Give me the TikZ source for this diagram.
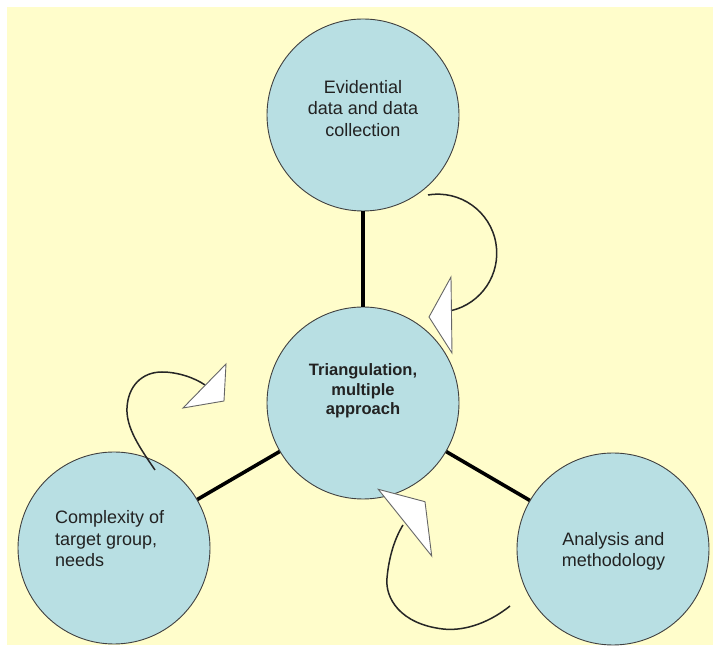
\documentclass[tikz,border=0pt]{standalone}
\usepackage{fontspec}
\setmainfont{Liberation Sans}
\definecolor{paper}{HTML}{FFFDCB}
\definecolor{circfill}{HTML}{B8DFE3}
\definecolor{inkgray}{HTML}{222222}
\begin{document}
\begin{tikzpicture}[x=1pt,y=1pt,
  hub/.style={circle, draw=black!75, line width=0.9pt, fill=circfill,
              minimum size=192pt, inner sep=0pt},
  spoke/.style={line width=3.6pt, black},
  loopline/.style={line width=1.5pt, black!85},
  head/.style={draw=black!60, line width=0.9pt, fill=white, line join=miter},
  lbl/.style={font=\fontsize{18}{21.5}\selectfont, text=inkgray, inner sep=0pt},
  lblbold/.style={font=\fontsize{16.5}{19.8}\selectfont\bfseries, text=inkgray, inner sep=0pt}
]
\useasboundingbox (0,0) rectangle (713,648);
\fill[white] (0,0) rectangle (713,648);
\fill[paper] (7,3) rectangle (713,641);

% the four circles
\node[hub] (top) at (363,533) {};
\node[hub] (mid) at (363,245) {};
\node[hub] (lft) at (114,100) {};
\node[hub] (rgt) at (613,99) {};

% spokes from the hub
\draw[spoke] (top) -- (mid);
\draw[spoke] (mid) -- (lft);
\draw[spoke] (mid) -- (rgt);

% labels
\node[lbl, align=center] (toptext) at (363,539.6) {Evidential\\data and data\\collection};
\node[lbl, align=left, anchor=west] (lfttext) at (55,109) {Complexity of\\target group,\\needs};
\node[lbl, align=center] (rgttext) at (613.5,96.7) {Analysis and\\methodology};
\node[lblbold, align=center] (midtext) at (363,257.2) {Triangulation,\\multiple\\approach};

% curved arrows with open triangular heads
\draw[loopline] (428,453) arc[start angle=99.5, end angle=-76.7, radius=59pt];
\draw[head] (451,371) -- (429,331) -- (452,295) -- cycle;

\draw[loopline] (155,178) .. controls (140,200) and (126,220) .. (127,240)
  .. controls (128,262) and (142,276) .. (162,276)
  .. controls (178,276) and (195,270) .. (205,263);
\draw[head] (226,284) -- (183,240) -- (224,247) -- cycle;

\draw[loopline] (510,42) .. controls (485,22) and (460,17) .. (443,19)
  .. controls (400,24) and (385,50) .. (387,70)
  .. controls (389,92) and (395,110) .. (403,123);
\draw[head] (378.3,158.7) -- (425,146.3) -- (431.7,92) -- cycle;
\end{tikzpicture}
\end{document}
